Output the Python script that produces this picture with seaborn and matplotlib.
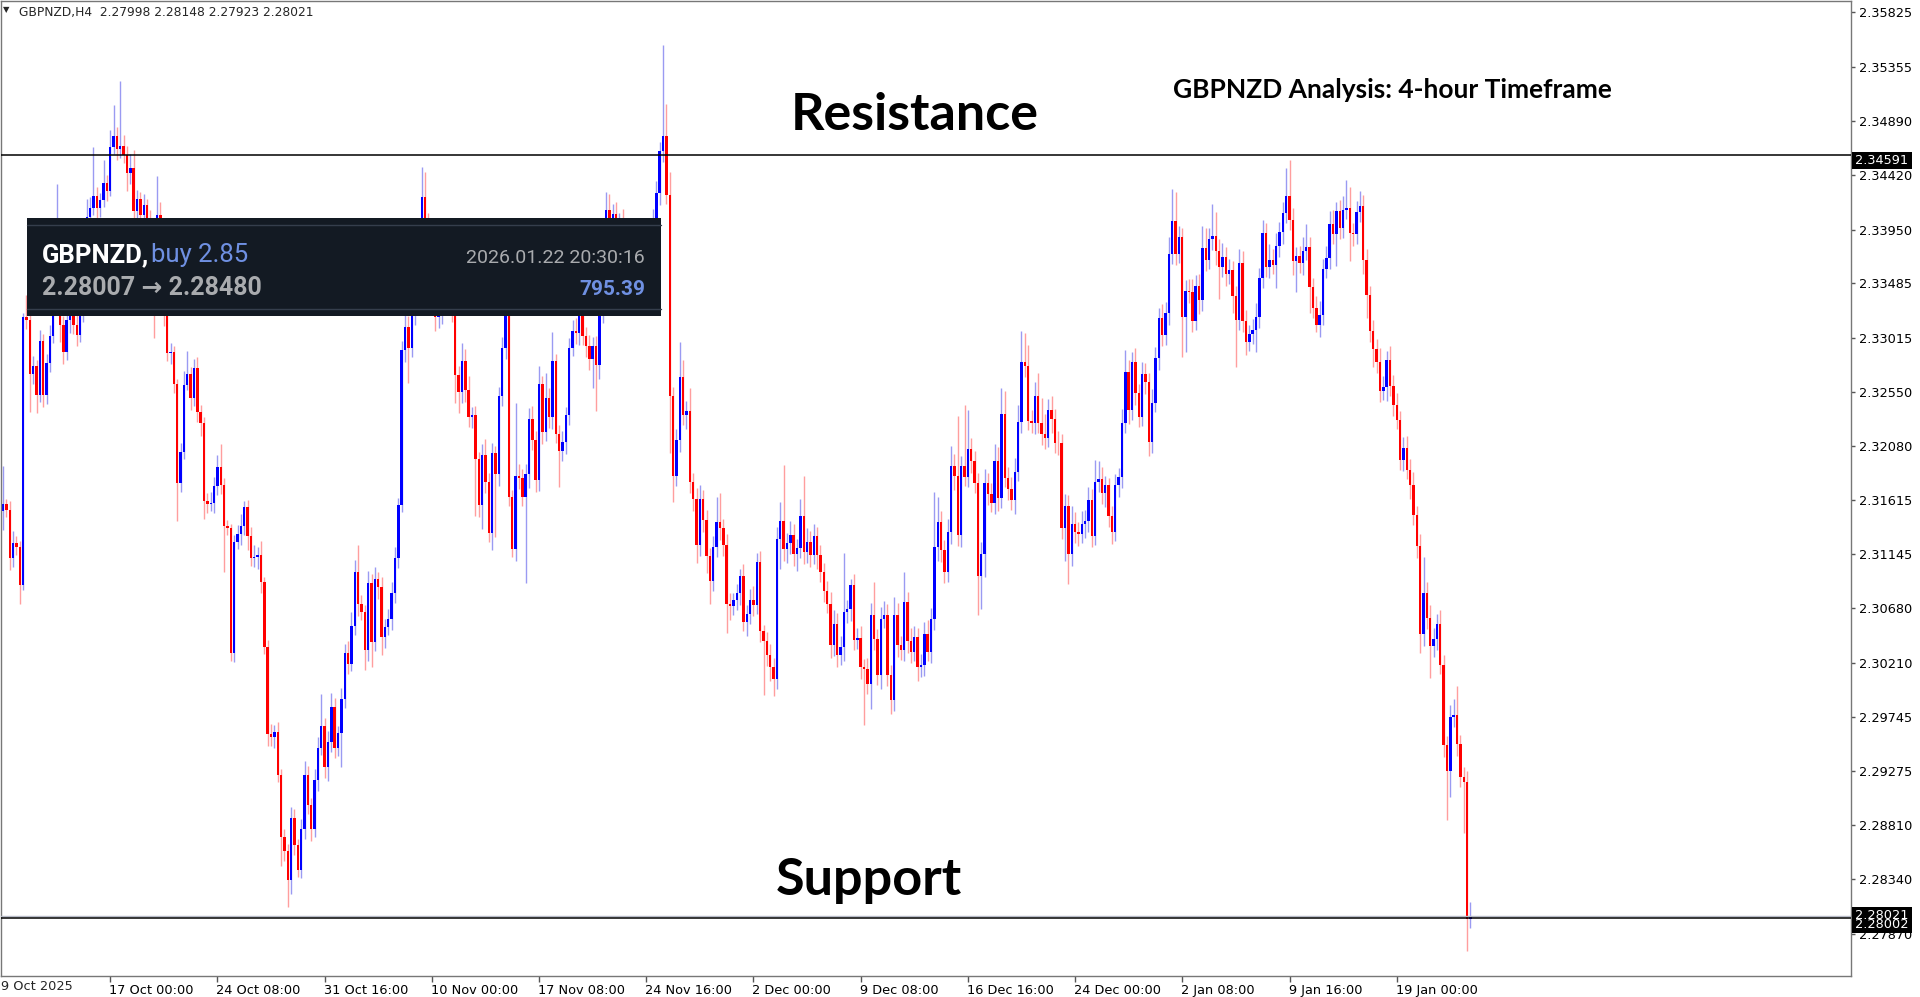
import numpy as np
import pandas as pd
import matplotlib
matplotlib.use("Agg")
import matplotlib.pyplot as plt
import seaborn as sns
from matplotlib.patches import Rectangle
from matplotlib.transforms import ScaledTranslation

# ---- data (GBPNZD, 4-hour candles) ----
symbol = "GBPNZD"
header_ohlc = [2.27998, 2.28148, 2.27923, 2.28021]
first_open = 2.31520

# closing prices, left to right
close_part1 = [
    2.31582, 2.31526, 2.31114, 2.31245, 2.31208, 2.30880, 2.33197, 2.33173, 2.32705, 2.32775,
    2.32518, 2.32986, 2.32518, 2.32799, 2.33033, 2.33360, 2.33782, 2.33126, 2.32892, 2.33173,
    2.33337, 2.33126, 2.33042, 2.33220, 2.33735, 2.34062, 2.34133, 2.34240, 2.34133, 2.34203,
    2.34353, 2.34287, 2.34662, 2.34755, 2.34647, 2.34671, 2.34591, 2.34437, 2.34484, 2.34109,
    2.34212, 2.34072, 2.34166, 2.34016, 2.33641, 2.33360, 2.34072, 2.33969, 2.33220, 2.32883,
    2.32892, 2.32621, 2.31760, 2.32027, 2.32612, 2.32705, 2.32495, 2.32752, 2.32378, 2.32284,
    2.31605, 2.31582, 2.31592, 2.31732, 2.31900, 2.31746, 2.31395, 2.31371, 2.30295, 2.31254,
    2.31320, 2.31395, 2.31554, 2.31301, 2.31114, 2.31123, 2.31137, 2.30903, 2.30342, 2.29593,
    2.29570, 2.29616, 2.29242, 2.28704, 2.28587, 2.28330, 2.28868, 2.28634, 2.28424, 2.28774,
    2.29242, 2.28985, 2.28774, 2.29195, 2.29476, 2.29663, 2.29312, 2.29523, 2.29827, 2.29476,
    2.29607, 2.29898, 2.30295, 2.30202, 2.30529, 2.30997, 2.30717, 2.30646, 2.30319, 2.30900,
]
close_part2 = [
    2.30392, 2.30935, 2.30863, 2.30428, 2.30519, 2.30591, 2.30808, 2.31116, 2.31569, 2.32908,
    2.33107, 2.32926, 2.33216, 2.33578, 2.33904, 2.34229, 2.34012, 2.33578, 2.33361, 2.33198,
    2.33252, 2.33433, 2.33578, 2.33433, 2.33252, 2.32691, 2.32546, 2.32818, 2.32564, 2.32329,
    2.32347, 2.31967, 2.31569, 2.32003, 2.31768, 2.31333, 2.32021, 2.31840, 2.32510, 2.32926,
    2.33578, 2.31641, 2.31189, 2.31822, 2.31804, 2.31641, 2.31840, 2.32311, 2.32130, 2.31786,
    2.32619, 2.32202, 2.32492, 2.32329, 2.32818, 2.32184, 2.32039, 2.32112, 2.32347, 2.32926,
    2.33071, 2.33053, 2.33234, 2.33035, 2.32944, 2.32836, 2.32944, 2.32781, 2.33234, 2.33723,
    2.34121, 2.33976, 2.34085, 2.33904, 2.34012, 2.33795, 2.33940, 2.33433, 2.33578, 2.33723,
    2.33650, 2.33795, 2.33723, 2.33904, 2.34012, 2.34266, 2.34628, 2.34754, 2.34248, 2.32510,
    2.31822, 2.32130, 2.32673, 2.32347, 2.32383, 2.31768, 2.31623, 2.31225, 2.31623, 2.31442,
    2.31134, 2.30917, 2.31207, 2.31424, 2.31370, 2.31225, 2.30718, 2.30700, 2.30754, 2.30808,
]
close_part3 = [
    2.30962, 2.30560, 2.30632, 2.30756, 2.30710, 2.31077, 2.30480, 2.30394, 2.30279, 2.30173,
    2.30073, 2.31278, 2.31436, 2.31192, 2.31243, 2.31312, 2.31149, 2.31197, 2.31473, 2.31163,
    2.31255, 2.31140, 2.31306, 2.31140, 2.30997, 2.30833, 2.30718, 2.30360, 2.30546, 2.30274,
    2.30345, 2.30647, 2.30670, 2.30882, 2.30408, 2.30426, 2.30173, 2.30159, 2.30030, 2.30624,
    2.30417, 2.30107, 2.30589, 2.30624, 2.30107, 2.29886, 2.30624, 2.30360, 2.30317, 2.30733,
    2.30394, 2.30302, 2.30431, 2.30173, 2.30193, 2.30460, 2.30302, 2.30589, 2.31206, 2.31421,
    2.31183, 2.30991, 2.31335, 2.31909, 2.31823, 2.31312, 2.31909, 2.31817, 2.32052, 2.31952,
    2.31765, 2.30956, 2.31149, 2.31760, 2.31665, 2.31593, 2.31952, 2.31636, 2.32354, 2.31809,
    2.31714, 2.31616, 2.31860, 2.32288, 2.32804, 2.32775, 2.32296, 2.32282, 2.32511, 2.32276,
    2.32181, 2.32153, 2.32391, 2.32311, 2.32110, 2.32104, 2.31370, 2.31565, 2.31149, 2.31410,
    2.31335, 2.31321, 2.31404, 2.31433, 2.31616, 2.31306, 2.31771, 2.31800, 2.31679,
]
close_part4 = [
    2.31741, 2.31473, 2.31339, 2.31741, 2.31812, 2.32277, 2.32724, 2.32393, 2.32804, 2.32536,
    2.32335, 2.32706, 2.32634, 2.32112, 2.32456, 2.32840, 2.33184, 2.33036, 2.33229, 2.33742,
    2.34024, 2.33742, 2.33885, 2.33197, 2.33421, 2.33407, 2.33162, 2.33465, 2.33340, 2.33787,
    2.33689, 2.33868, 2.33899, 2.33765, 2.33631, 2.33711, 2.33564, 2.33599, 2.33376, 2.33170,
    2.33662, 2.33162, 2.32983, 2.33050, 2.33081, 2.33197, 2.33528, 2.33921, 2.33631, 2.33684,
    2.33644, 2.33805, 2.33930, 2.34091, 2.34243, 2.34033, 2.33675, 2.33720, 2.33662, 2.33765,
    2.33796, 2.33452, 2.33273, 2.33126, 2.33215, 2.33608, 2.33707, 2.33997, 2.33912, 2.34109,
    2.33966, 2.34122, 2.34136, 2.33921, 2.33912, 2.34100, 2.34153, 2.33689, 2.33385, 2.33072,
    2.32916, 2.32804, 2.32558, 2.32590, 2.32826, 2.32603, 2.32438, 2.32304, 2.31964, 2.32067,
    2.31875, 2.31741, 2.31486, 2.31218, 2.30458, 2.30816, 2.30592, 2.30356, 2.30414, 2.30548,
    2.30190, 2.29498, 2.29274, 2.29743, 2.29757, 2.29507, 2.29221, 2.29176, 2.27998, 2.28021,
]

# wick length above / below the body, in pips
wick_up_pips = [
    33, 4, 8, 10, 6, 5, 3, 19, 6, 8,   5, 10, 6, 8, 9, 7, 56, 10, 8, 9,
    6, 5, 9, 8, 12, 15, 10, 42, 8, 6,   20, 7, 15, 27, 8, 56, 10, 8, 12, 15,
    8, 6, 9, 5, 10, 8, 34, 12, 6, 6,   8, 5, 4, 8, 12, 20, 6, 8, 10, 6,
    5, 7, 9, 8, 10, 20, 6, 5, 4, 6,   8, 10, 5, 6, 8, 10, 7, 12, 5, 6,
    9, 6, 8, 5, 7, 6, 10, 8, 5, 9,   12, 8, 6, 10, 9, 28, 7, 10, 12, 8,
    6, 9, 8, 10, 12, 10, 23, 8, 6, 10,
    8, 10, 6, 9, 7, 8, 10, 9, 6, 8,   12, 10, 9, 8, 10, 26, 22, 8, 10, 7,
    9, 8, 10, 7, 9, 6, 8, 15, 10, 12,   7, 8, 6, 10, 14, 8, 9, 6, 8, 10,
    9, 8, 6, 63, 10, 8, 9, 10, 12, 8,   15, 7, 22, 9, 25, 6, 8, 10, 7, 9,
    10, 12, 8, 9, 7, 10, 8, 9, 10, 12,   15, 14, 9, 10, 8, 12, 9, 8, 10, 7,
    9, 8, 10, 9, 12, 10, 8, 79, 28, 20,   8, 10, 31, 15, 9, 20, 8, 10, 12, 8,
    9, 7, 10, 22, 25, 8, 10, 9, 6, 8,
    6, 10, 8, 9, 12, 8, 10, 6, 8, 9,   8, 10, 16, 48, 9, 12, 10, 8, 15, 35,
    12, 9, 10, 8, 9, 7, 8, 10, 12, 9,   10, 51, 8, 5, 9, 8, 10, 7, 9, 10,
    28, 8, 10, 12, 9, 8, 15, 10, 8, 26,   9, 12, 10, 8, 9, 10, 12, 9, 48, 22,
    10, 9, 12, 17, 10, 52, 9, 53, 34, 10,   9, 8, 10, 12, 9, 10, 15, 12, 23, 20,
    9, 10, 12, 15, 27, 25, 18, 10, 12, 20,   22, 18, 10, 12, 9, 10, 8, 10, 9, 15,
    10, 9, 12, 10, 11, 9, 19, 15, 10,
    8, 6, 9, 10, 8, 12, 19, 10, 9, 12,   8, 10, 9, 8, 12, 10, 9, 12, 10, 14,
    28, 25, 10, 8, 9, 10, 12, 9, 10, 19,   18, 10, 27, 20, 10, 12, 9, 10, 8, 9,
    12, 10, 9, 8, 10, 12, 9, 11, 9, 14,   10, 12, 9, 10, 24, 31, 10, 8, 9, 12,
    20, 9, 8, 10, 12, 9, 10, 11, 12, 8,   10, 12, 24, 18, 9, 10, 13, 10, 9, 8,
    10, 9, 12, 10, 8, 12, 9, 10, 8, 9,   10, 9, 12, 8, 10, 31, 9, 12, 10, 8,
    12, 9, 8, 10, 14, 25, 8, 9, 10, 12.7,
]
wick_dn_pips = [
    16, 6, 10, 8, 7, 16, 4, 8, 33, 9,   15, 6, 10, 7, 8, 6, 9, 15, 10, 7,
    12, 8, 10, 6, 7, 5, 8, 6, 9, 7,   6, 9, 5, 6, 10, 8, 7, 15, 9, 8,
    10, 7, 8, 9, 12, 35, 6, 8, 10, 7,   9, 8, 33, 8, 6, 5, 10, 7, 9, 12,
    15, 8, 6, 9, 7, 8, 40, 6, 7, 8,   6, 9, 8, 12, 7, 8, 10, 9, 6, 10,
    8, 10, 6, 25, 9, 23, 12, 8, 6, 7,   9, 8, 10, 7, 9, 6, 10, 12, 8, 9,
    7, 30, 8, 9, 6, 8, 10, 7, 17, 9,
    22, 8, 10, 15, 9, 7, 10, 8, 9, 6,   10, 30, 8, 9, 10, 8, 7, 10, 9, 12,
    10, 12, 9, 8, 10, 24, 18, 9, 10, 8,   9, 49, 10, 20, 9, 8, 15, 54, 10, 8,
    9, 8, 7, 10, 9, 8, 74, 12, 8, 10,   9, 10, 8, 9, 10, 8, 31, 9, 10, 8,
    7, 9, 10, 8, 9, 10, 25, 40, 12, 9,   8, 9, 10, 7, 9, 8, 10, 22, 9, 8,
    10, 9, 8, 10, 9, 7, 10, 9, 8, 49,   22, 9, 10, 8, 12, 9, 10, 15, 9, 10,
    15, 20, 9, 8, 10, 9, 25, 12, 8, 9,
    10, 8, 12, 9, 10, 8, 9, 46, 10, 12,   15, 9, 26, 10, 12, 9, 10, 15, 8, 10,
    9, 10, 8, 12, 9, 10, 8, 11, 9, 10,   8, 12, 9, 10, 9, 8, 10, 49, 9, 22,
    10, 9, 12, 8, 10, 12, 9, 10, 8, 9,   10, 9, 8, 12, 9, 10, 8, 9, 10, 12,
    10, 9, 8, 10, 12, 9, 10, 8, 9, 10,   9, 33, 28, 20, 9, 8, 10, 12, 9, 8,
    10, 9, 12, 8, 9, 10, 8, 9, 10, 8,   9, 10, 8, 12, 9, 10, 9, 28, 26, 10,
    9, 10, 8, 12, 9, 10, 8, 9, 10,
    12, 9, 10, 8, 10, 9, 8, 12, 9, 10,   9, 8, 10, 12, 9, 8, 10, 9, 8, 10,
    9, 10, 8, 35, 30, 9, 10, 8, 12, 9,   10, 8, 9, 12, 28, 9, 10, 8, 15, 41,
    9, 10, 12, 8, 9, 19, 10, 8, 9, 10,   8, 20, 9, 10, 8, 9, 12, 26, 9, 10,
    8, 22, 9, 6, 10, 9, 8, 10, 9, 28,   10, 9, 8, 24, 10, 9, 8, 12, 20, 9,
    15, 9, 10, 8, 12, 9, 10, 8, 9, 10,   8, 12, 9, 10, 16, 10, 9, 28, 10, 9,
    8, 10, 42, 22, 9, 10, 8, 44, 28, 7.5,
]

date_labels = ["17 Oct 00:00", "24 Oct 08:00", "31 Oct 16:00", "10 Nov 00:00", "17 Nov 08:00",
               "24 Nov 16:00", "2 Dec 00:00", "9 Dec 08:00", "16 Dec 16:00", "24 Dec 00:00",
               "2 Jan 08:00", "9 Jan 16:00", "19 Jan 00:00"]
first_date = "9 Oct 2025"
bars_per_label = 32
price_ticks = [2.35825, 2.35355, 2.34890, 2.34420, 2.33950, 2.33485, 2.33015, 2.32550, 2.32080,
               2.31615, 2.31145, 2.30680, 2.30210, 2.29745, 2.29275, 2.28810, 2.28340, 2.27870]
resistance = 2.34591
support = 2.28002
bid = 2.28021

# ---- build the candle table ----
close = np.array(close_part1 + close_part2 + close_part3 + close_part4)
df = pd.DataFrame({"close": close})
df["open"] = df["close"].shift(1).fillna(first_open)
df["up"] = df["close"] >= df["open"]
df["high"] = df[["open", "close"]].max(axis=1) + np.array(wick_up_pips) / 10000
df["low"] = df[["open", "close"]].min(axis=1) - np.array(wick_dn_pips) / 10000
df["idx"] = np.arange(len(df))

W, H = 1920, 997


def fx(px):
    return px / W


def fy(py):
    return 1 - py / H


sns.set_theme(style="white")
plt.rcParams["font.family"] = ["DejaVu Sans"]

fig = plt.figure(figsize=(W / 100, H / 100), dpi=100, facecolor="white")
ax = fig.add_axes([fx(1), 21 / H, 1850 / W, 975 / H])
ax.set_facecolor("white")

# wicks then bodies
up = df[df["up"]]
dn = df[~df["up"]]
ax.vlines(up["idx"], up["low"], up["high"], color="#9a9af2", lw=1, zorder=1)
ax.vlines(dn["idx"], dn["low"], dn["high"], color="#ff9e9e", lw=1, zorder=1)
body_h = (df["close"] - df["open"]).abs().clip(lower=0.00004)
ax.bar(df["idx"], body_h, bottom=np.minimum(df["open"], df["close"]), width=0.72,
       color=np.where(df["up"], "#0000ff", "#ff0000"), linewidth=0, antialiased=False, zorder=2)

# resistance / support lines
ax.axhline(resistance, color="black", lw=1.1, zorder=3)
ax.axhline(bid, color="#b8bcc8", lw=1, zorder=3)
ax.axhline(support, color="black", lw=1.1, zorder=3)

ax.set_xlim(-0.6, 551.6)
ax.set_ylim(2.27505, 2.35924)

for s in ax.spines.values():
    s.set_color("#777777")
    s.set_linewidth(1)

# right price axis
ax.yaxis.tick_right()
ax.set_yticks(price_ticks)
ax.set_yticklabels([f"{p:.5f}" for p in price_ticks])
ax.tick_params(axis="y", right=True, left=False, direction="out", length=3, width=1,
               color="#555555", labelsize=9.3, pad=3, labelcolor="black")

# bottom time axis
tick_pos = [bars_per_label * (k + 1) for k in range(len(date_labels))]
ax.set_xticks(tick_pos)
ax.set_xticklabels(date_labels)
ax.tick_params(axis="x", bottom=True, direction="out", length=4, width=1,
               color="#555555", labelsize=9.3, pad=2, labelcolor="black")
for lab in ax.get_xticklabels():
    lab.set_horizontalalignment("left")
    lab.set_transform(lab.get_transform() + ScaledTranslation(-1 / 100, 0, fig.dpi_scale_trans))
fig.text(fx(1), fy(986), first_date, fontsize=9.3, ha="left", va="center")


# highlighted price boxes on the right axis
def price_box(top_px, text):
    fig.add_artist(Rectangle((fx(1852), fy(top_px + 17)), 60 / W, 17 / H,
                             transform=fig.transFigure, facecolor="black", edgecolor="none", zorder=5))
    fig.text(fx(1855), fy(top_px + 8.5), text, color="white", fontsize=9.3,
             ha="left", va="center", zorder=6)


price_box(152, f"{resistance:.5f}")
price_box(907, f"{bid:.5f}")
price_box(916, f"{support:.5f}")

# header line
fig.text(fx(3), fy(10), "\u25bc", fontsize=6, ha="left", va="center")
fig.text(fx(19), fy(16), f"{symbol},H4  " + " ".join(f"{v:.5f}" for v in header_ohlc),
         fontsize=8.8, ha="left", va="baseline")

# annotations
big = dict(family=["Lato", "DejaVu Sans"], fontweight="bold", color="black", ha="center", va="baseline")
fig.text(fx(915), fy(130), "Resistance", fontsize=37.5, **big)
fig.text(fx(869), fy(895), "Support", fontsize=37.5, **big)
fig.text(fx(1392), fy(98), f"{symbol} Analysis: 4-hour Timeframe", fontsize=19, **big)

# trade info box
fig.add_artist(Rectangle((fx(27), fy(316)), (661 - 27) / W, (316 - 218) / H,
                         transform=fig.transFigure, facecolor="#131a23", edgecolor="none", zorder=7))
for ly in (225, 309):
    fig.add_artist(plt.Line2D([fx(27), fx(661)], [fy(ly), fy(ly)], transform=fig.transFigure,
                              color="#353e4c", lw=1, zorder=8))
rob = ["Roboto", "DejaVu Sans"]
fig.text(fx(42), fy(262), f"{symbol},", family=rob, fontweight="bold", fontsize=18.5,
         color="white", ha="left", va="baseline", zorder=9)
fig.text(fx(151), fy(262), "buy 2.85", family=rob, fontsize=18.5,
         color="#6f90e2", ha="left", va="baseline", zorder=9)
fig.text(fx(42), fy(295), "2.28007 \u2192 2.28480", family=rob, fontweight="bold", fontsize=18,
         color="#a9abae", ha="left", va="baseline", zorder=9)
fig.text(fx(645), fy(263), "2026.01.22 20:30:16", family=rob, fontsize=14,
         color="#a9abae", ha="right", va="baseline", zorder=9)
fig.text(fx(645), fy(295), "795.39", family=rob, fontweight="bold", fontsize=15,
         color="#6f90e2", ha="right", va="baseline", zorder=9)

fig.savefig("out.png", dpi=100, facecolor="white")
